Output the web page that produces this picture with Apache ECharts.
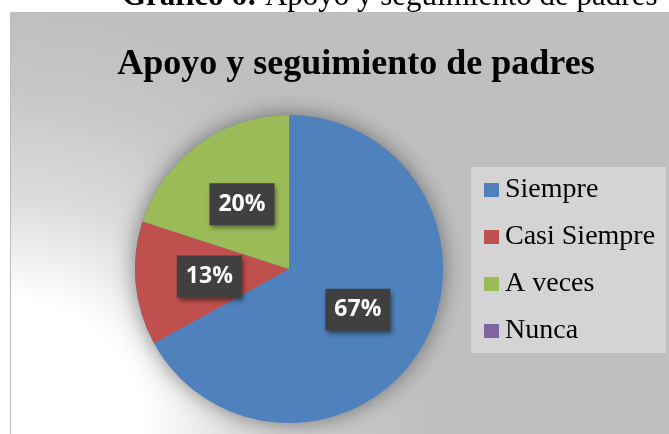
<!DOCTYPE html>
<html>
<head>
<meta charset="utf-8">
<script src="https://cdn.jsdelivr.net/npm/echarts@6/dist/echarts.min.js"></script>
<style>
html,body{margin:0;padding:0;background:#fff;}
#c{width:669px;height:434px;}
</style>
</head>
<body>
<div id="c"></div>
<script>
const captionBold = 'Gráfico 6:';
const captionText = 'Apoyo y seguimiento de padres';
const chartTitle = 'Apoyo y seguimiento de padres';
const categories = ['Siempre', 'Casi Siempre', 'A veces', 'Nunca'];
const values = [67, 13, 20, 0];
const colors = ['#4f81bd', '#c0504d', '#9bbb59', '#8064a2'];

const chart = echarts.init(document.getElementById('c'), null, {renderer: 'canvas'});

const pieData = categories.map((c, i) => {
  const d = {name: c, value: values[i], itemStyle: {color: colors[i]}};
  if (values[i] === 0) d.label = {show: false};
  return d;
});

const option = {
  backgroundColor: '#ffffff',
  animation: false,
  graphic: [
    {
      type: 'text', z: 0, x: 122, y: -3.5,
      style: {
        text: '{b|' + captionBold + '}{r|\u00a0' + captionText + '}',
        verticalAlign: 'middle',
        align: 'left',
        fill: '#000',
        rich: {
          b: {fontFamily: 'Liberation Serif', fontSize: 31, fontWeight: 'bold', fill: '#000'},
          r: {fontFamily: 'Liberation Serif', fontSize: 31, fill: '#000'}
        }
      }
    },
    {
      type: 'rect', z: 1,
      shape: {x: 10.5, y: 12.5, width: 670, height: 430},
      style: {
        fill: {
          type: 'radial', x: 10, y: 434, r: 420, global: true,
          colorStops: [
            {offset: 0, color: '#ffffff'},
            {offset: 0.32, color: '#ffffff'},
            {offset: 0.45, color: '#ececec'},
            {offset: 0.56, color: '#dcdcdc'},
            {offset: 0.8, color: '#c8c8c8'},
            {offset: 1, color: '#bfbfbf'}
          ]
        },
        stroke: '#bcbcbc', lineWidth: 1
      }
    },
    {
      type: 'text', z: 2, x: 356, y: 64.5,
      style: {
        text: chartTitle,
        align: 'center', verticalAlign: 'middle',
        fontFamily: 'Liberation Serif', fontSize: 36, fontWeight: 'bold', fill: '#000'
      }
    },
    {
      type: 'rect', z: 2,
      shape: {x: 471, y: 167, width: 195, height: 186},
      style: {fill: '#d4d4d4'}
    }
  ],
  legend: {
    orient: 'vertical',
    left: 484, top: 176,
    padding: 0,
    itemWidth: 15, itemHeight: 14, itemGap: 19,
    icon: 'rect',
    data: categories,
    selectedMode: false,
    textStyle: {fontFamily: 'Liberation Serif', fontSize: 28, color: '#000', lineHeight: 28, padding: [0, 0, 0, 1]}
  },
  series: [
    {
      type: 'pie',
      name: 'shadow',
      silent: true,
      center: [289, 269], radius: 154,
      label: {show: false}, labelLine: {show: false},
      itemStyle: {color: '#4f81bd', shadowBlur: 22, shadowColor: 'rgba(0,0,0,0.45)'},
      data: [{value: 1, name: '__bg'}],
      legendHoverLink: false
    },
    {
      type: 'pie',
      name: chartTitle,
      center: [289, 269], radius: 154,
      startAngle: 90, clockwise: true,
      avoidLabelOverlap: false,
      labelLine: {show: false},
      label: {
        show: true, position: 'inside',
        formatter: p => Math.round(p.percent) + '%',
        color: '#ffffff', fontFamily: 'Open Sans', fontWeight: 'bold', fontSize: 23,
        lineHeight: 24,
        backgroundColor: '#404040',
        padding: [9, 9, 9, 9],
        shadowBlur: 5, shadowOffsetX: 2, shadowOffsetY: 3, shadowColor: 'rgba(0,0,0,0.5)'
      },
      itemStyle: {borderWidth: 0},
      emphasis: {disabled: true},
      data: pieData
    }
  ]
};
chart.setOption(option);
</script>
</body>
</html>
